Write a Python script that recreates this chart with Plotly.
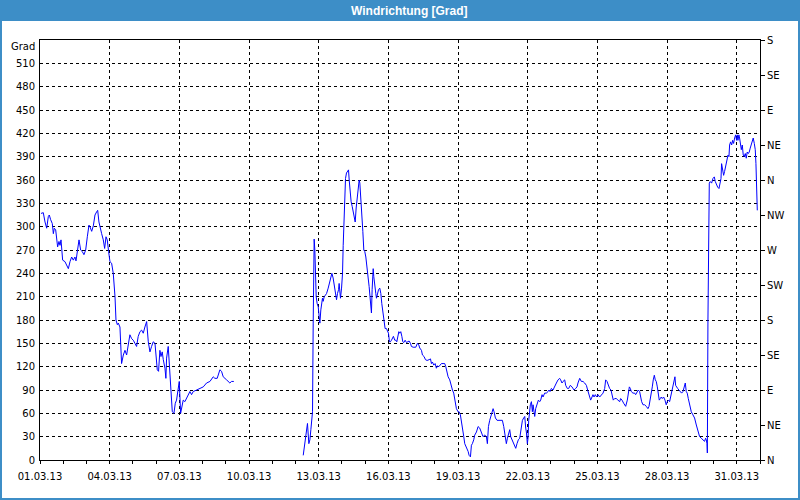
import pandas as pd
import plotly.graph_objects as go

# ---- data: hours after 01.03.2013 00:00 and wind direction [Grad] ----
hours_a = [1.0, 3.4, 5.2, 6.9, 8.6, 9.6, 11.0, 12.7, 13.8, 14.8, 16.2, 17.2, 18.2, 19.6, 20.7, 21.7, 22.4, 23.4,
           25.8, 27.5, 29.3, 31.0, 32.7, 34.4, 36.1, 37.2, 38.6, 40.3, 42.0, 43.7, 45.4, 47.2, 48.9, 50.6, 51.6,
           53.4, 55.1, 56.8, 58.5, 59.6, 60.9, 62.7, 63.7, 65.4, 66.8, 68.2, 69.5, 70.9, 72.3, 74.0, 75.7, 77.5,
           78.5, 79.9, 80.9, 82.6, 83.3, 84.3, 86.1, 87.8, 89.5, 91.2, 92.9, 94.7, 96.4, 98.1, 99.8, 101.5, 103.3,
           105.0, 106.7, 108.4, 110.2, 111.9, 113.6, 115.3, 117.0, 118.8, 119.8, 121.2, 122.5, 123.9, 125.0, 126.3,
           127.4, 129.1, 130.1, 130.8, 132.5, 133.6, 134.3, 135.6, 136.7, 138.4, 139.8, 141.1, 142.9, 143.9, 145.3,
           146.6, 148.0, 149.7, 151.5, 153.2, 154.9, 156.6, 158.3, 161.8, 165.2, 168.7, 172.1, 175.6, 179.0, 180.7,
           183.1, 185.9, 187.6, 189.3, 192.8, 196.2, 197.9, 200.3]
grad_a = [317, 318, 306, 298, 313, 315, 309, 304, 291, 298, 296, 287, 274, 281, 276, 283, 272, 257,
          255, 251, 246, 255, 261, 257, 261, 256, 268, 283, 270, 268, 264, 270, 287, 302, 300,
          294, 301, 315, 319, 321, 306, 294, 291, 283, 272, 287, 283, 268, 255, 253, 240, 210,
          180, 174, 176, 171, 150, 124, 135, 141, 135, 148, 161, 156, 154, 150, 146, 159, 165,
          167, 163, 171, 178, 152, 139, 146, 152, 150, 133, 116, 114, 141, 133, 139,
          129, 118, 105, 131, 146, 124, 101, 90, 62, 60, 73, 77, 90, 101, 60,
          71, 77, 75, 79, 84, 88, 84, 88, 90, 92, 94, 99, 101, 107, 105,
          105, 116, 114, 107, 103, 99, 101, 101]

hours_b = [272.0, 273.7, 275.4, 276.4, 277.8, 278.9, 279.9, 280.9, 281.6, 282.3, 283.3, 284.0, 284.7, 285.4,
           286.4, 287.5, 288.5, 289.2, 290.2, 291.2, 291.9, 292.6, 293.7, 295.0, 296.1, 297.8, 298.8, 300.2,
           301.6, 302.9, 304.0, 305.4, 306.4, 307.4, 308.5, 309.1, 309.8, 310.5, 311.6, 312.6, 313.3, 314.3,
           315.0, 315.7, 316.7, 317.7, 318.8, 319.5, 320.5, 321.5, 322.6, 323.6, 324.6, 325.7, 326.7, 327.7,
           328.8, 329.8, 330.5, 331.5, 332.5, 333.6, 334.6, 335.6, 336.7, 338.1, 339.1, 340.1, 341.2, 341.8,
           342.5, 343.2, 344.3, 344.9, 346.0, 347.0, 347.7, 348.7, 349.8, 351.1, 352.2, 353.2, 354.2, 355.3,
           356.0, 356.6, 358.0, 359.1, 360.1, 361.1, 362.1, 363.2, 364.2, 365.2, 366.6, 367.7, 368.7, 369.7,
           370.8, 371.8, 372.8, 373.9, 374.9, 375.9, 377.3, 378.7, 380.4, 381.4, 382.8, 383.8, 385.6, 388.3,
           390.0, 391.4, 392.4, 394.2, 395.2, 396.9, 398.3, 400.0, 402.1, 403.5, 404.5, 405.5, 406.9, 408.3,
           409.6, 410.7, 412.1, 413.1, 414.8, 416.5, 418.2, 419.3, 420.3, 421.7, 423.4, 424.8, 426.2, 427.5,
           428.6, 429.6, 430.3, 432.0, 433.1, 434.4, 435.5, 436.5, 437.9, 438.9, 440.6, 442.4, 443.4, 444.8,
           445.8, 446.8, 448.2, 449.2, 451.0, 452.7, 454.4, 456.1, 457.8, 459.6, 461.3, 462.3, 463.4, 464.7,
           466.5, 468.2, 469.2, 470.6, 472.3, 475.1, 477.8, 479.2, 480.9, 481.9, 483.0, 484.3, 485.4, 486.4,
           487.8, 488.8, 490.5, 491.6, 492.9, 494.3, 495.7, 497.4, 498.5, 499.8, 500.9, 501.9, 502.6, 503.6,
           504.3, 505.0, 505.7, 506.7, 507.8, 508.8, 509.5, 510.5, 511.2, 512.2, 513.6, 515.0, 516.4, 517.4,
           518.8, 519.8, 521.5, 523.2, 525.0, 526.0, 527.0, 528.4, 530.1, 531.9, 533.6, 535.3, 537.0, 538.0,
           539.4, 540.5, 542.2, 543.2, 544.9, 546.3, 548.0, 549.7, 550.8, 551.8, 553.5, 554.9, 555.9, 557.7,
           559.4, 561.1, 562.8, 564.6, 565.9, 567.3, 569.0, 570.4, 571.4, 572.5, 573.8, 575.2, 576.6, 578.3,
           580.0, 581.8, 583.5, 584.5, 585.9, 587.3, 588.6, 590.0, 591.4, 592.4, 593.8, 595.5, 597.2, 599.0,
           600.0, 601.4, 603.1, 604.1, 605.2, 606.9, 607.9, 609.0, 610.0, 611.0, 612.7, 614.5, 615.5, 616.9,
           618.2, 619.6, 620.7, 621.7, 623.1, 624.8, 626.5, 628.2, 629.3, 630.6, 631.7, 632.7, 633.7, 634.8,
           635.8, 636.8, 637.9, 638.9, 639.9, 641.0, 642.0, 643.0, 644.4, 645.8, 647.1, 648.2, 649.6, 650.6,
           651.6, 652.7, 654.0, 655.1, 656.1, 656.8, 657.5, 658.9, 660.2, 661.6, 663.0, 664.4, 665.7, 666.8,
           667.8, 668.8, 669.9, 671.3, 673.0, 674.7, 676.4, 678.2, 679.9, 681.6, 683.3, 685.0, 686.7, 687.8,
           688.5, 689.2, 689.6, 690.2, 691.6, 692.6, 694.0, 695.4, 696.8, 697.8, 698.8, 700.2, 701.6, 702.6,
           703.7, 704.3, 705.4, 706.4, 707.4, 708.5, 709.9, 710.9, 711.9, 712.6, 713.6, 714.7, 715.7, 716.7,
           717.8, 718.8, 719.8, 720.5, 721.2, 722.2, 722.9, 723.6, 724.7, 725.7, 726.7, 727.7, 728.8, 729.8,
           730.8, 731.9, 732.9, 733.9, 735.0, 736.0, 737.0, 738.1, 739.1, 739.8, 740.1, 740.8, 741.2]
grad_b = [6, 24, 43, 47, 21, 26, 39, 51, 62, 176, 284, 270, 238, 210,
          201, 197, 184, 176, 193, 204, 208, 204, 210, 212, 214, 221, 227, 234,
          240, 234, 223, 210, 206, 214, 219, 227, 210, 208, 221, 240, 276, 315,
          334, 362, 369, 371, 373, 360, 345, 332, 326, 319, 313, 306, 324, 334,
          347, 360, 356, 339, 313, 294, 270, 268, 261, 249, 234, 223, 210, 201,
          189, 219, 246, 236, 219, 214, 208, 216, 219, 221, 214, 201, 193, 184,
          174, 169, 169, 165, 163, 152, 152, 154, 156, 159, 154, 154, 152, 159,
          165, 163, 165, 159, 152, 151, 154, 151, 152, 153, 150, 146, 145, 145,
          150, 148, 144, 141, 135, 133, 129, 128, 129, 130, 124, 126, 122, 124,
          118, 121, 120, 122, 124, 124, 124, 120, 114, 107, 103, 94, 90, 86,
          79, 73, 66, 62, 62, 58, 47, 39, 30, 21, 17, 11, 6, 4,
          19, 21, 26, 32, 36, 43, 41, 36, 30, 32, 30, 21, 43, 51,
          60, 66, 62, 54, 51, 51, 51, 43, 30, 21, 28, 34, 39, 30,
          26, 24, 19, 15, 21, 26, 28, 39, 51, 54, 56, 41, 36, 21,
          28, 51, 64, 71, 75, 62, 71, 62, 56, 66, 73, 77, 75, 77,
          84, 81, 86, 86, 88, 90, 88, 92, 90, 96, 99, 103, 105, 103,
          99, 101, 103, 96, 92, 92, 96, 94, 92, 90, 92, 94, 99, 105,
          101, 101, 99, 96, 90, 84, 77, 81, 84, 81, 84, 81, 84, 81,
          84, 86, 92, 103, 101, 96, 92, 90, 84, 77, 79, 79, 77, 75,
          79, 77, 73, 71, 69, 77, 88, 94, 92, 88, 86, 86, 84, 88,
          90, 88, 81, 75, 71, 71, 69, 66, 69, 77, 86, 94, 103, 109,
          103, 101, 94, 84, 77, 79, 81, 79, 81, 77, 71, 75, 77, 75,
          81, 88, 96, 103, 107, 96, 94, 92, 90, 88, 86, 88, 96, 99,
          88, 86, 79, 71, 62, 58, 54, 45, 36, 30, 28, 26, 24, 28,
          26, 21, 9, 180, 356, 358, 356, 362, 364, 358, 354, 351, 349, 354,
          362, 381, 373, 366, 371, 377, 384, 392, 390, 405, 409, 405, 411, 407,
          414, 418, 411, 418, 411, 418, 414, 405, 399, 405, 392, 390, 394, 388,
          396, 394, 396, 401, 405, 411, 414, 407, 399, 381, 360, 360, 321]

grad_ticks = [0, 30, 60, 90, 120, 150, 180, 210, 240, 270, 300, 330, 360, 390, 420, 450, 480, 510]
compass_ticks = [0, 45, 90, 135, 180, 225, 270, 315, 360, 405, 450, 495, 540]
compass_labels = ["N", "NE", "E", "SE", "S", "SW", "W", "NW", "N", "NE", "E", "SE", "S"]
x_start, x_end = "2013-03-01", "2013-04-01"
title_text = "Windrichtung [Grad]"
unit_text = "Grad"

base = pd.Timestamp(x_start)
xa = list(base + pd.to_timedelta(hours_a, unit="h"))
xb = list(base + pd.to_timedelta(hours_b, unit="h"))
xs = xa + [None] + xb
ys = grad_a + [None] + grad_b

BLUE = "#3D8EC7"
FONT = dict(family="DejaVu Sans", size=10, color="#000000")
GRID = dict(showgrid=True, gridcolor="#000000", gridwidth=1, griddash="3px,3px")

fig = go.Figure()
fig.add_trace(go.Scatter(x=xs, y=ys, mode="lines", line=dict(color="#0000FF", width=1),
                         connectgaps=False, hoverinfo="skip"))
# empty trace so that the compass axis on the right is drawn
fig.add_trace(go.Scatter(x=[], y=[], yaxis="y2", mode="lines", hoverinfo="skip"))

fig.update_layout(
    width=800, height=500,
    margin=dict(l=40, r=40, t=40, b=40),
    paper_bgcolor="#FFFFFF", plot_bgcolor="#FFFFFF",
    showlegend=False,
    xaxis=dict(type="date", range=[x_start, x_end], tick0=x_start, dtick=3 * 86400000,
               tickformat="%d.%m.%y", ticks="outside", ticklen=3, tickcolor="#000000",
               minor=dict(dtick=86400000, tick0=x_start, ticks="outside", ticklen=3,
                          tickcolor="#000000", showgrid=False),
               showline=True, linecolor="#000000", linewidth=1, mirror=True,
               tickfont=FONT, ticklabelstandoff=4, zeroline=False, **GRID),
    yaxis=dict(range=[0, 540], tickvals=grad_ticks, ticktext=[str(v) for v in grad_ticks],
               ticks="", showline=True, linecolor="#000000", linewidth=1, mirror=True,
               tickfont=FONT, zeroline=False, ticklabelstandoff=2, **GRID),
    yaxis2=dict(range=[0, 540], overlaying="y", side="right", anchor="x", tickvals=compass_ticks,
                ticktext=compass_labels, ticks="outside", ticklen=4, tickcolor="#000000",
                showgrid=False, showline=False, zeroline=False, tickfont=FONT),
)

# window title bar and frame
fig.add_shape(type="rect", xref="paper", yref="paper", x0=-40 / 720, x1=1 + 40 / 720,
              y0=(460 - 21) / 420, y1=460 / 420, fillcolor=BLUE, line=dict(width=0), layer="above")
fig.add_shape(type="rect", xref="paper", yref="paper", x0=-39 / 720, x1=1 + 39 / 720,
              y0=-39 / 420, y1=459 / 420, line=dict(color=BLUE, width=2), fillcolor="rgba(0,0,0,0)",
              layer="above")
fig.add_annotation(text="<b>" + title_text + "</b>", xref="paper", yref="paper",
                   x=(409.5 - 40) / 720, y=(460 - 10.5) / 420, xanchor="center", yanchor="middle",
                   showarrow=False, font=dict(family="Liberation Sans", size=12, color="#FFFFFF"))
fig.add_annotation(text=unit_text, xref="paper", yref="y", x=-3 / 720, y=540, xanchor="right",
                   yanchor="middle", yshift=-6, showarrow=False, font=FONT)

fig.write_html("out.html", config={"displayModeBar": False},
               post_script="document.body.style.margin='0px';")
